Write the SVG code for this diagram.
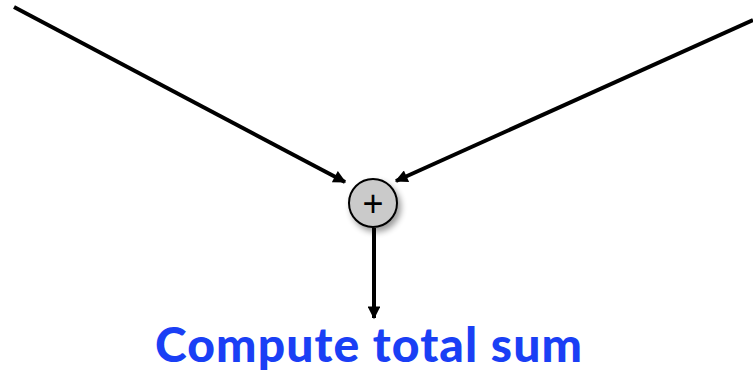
<svg xmlns="http://www.w3.org/2000/svg" width="753" height="372" viewBox="0 0 753 372">
<style>
.edge{stroke:#000;stroke-width:4;fill:none}
.lbl{font-family:"Comic Sans MS","Lato","Liberation Sans",sans-serif;font-weight:900;fill:#1a3ff5}
</style>
<defs>
<marker id="ah" viewBox="0 0 10 10" refX="9" refY="5" markerWidth="3.6" markerHeight="3.2" orient="auto" markerUnits="strokeWidth">
<path d="M0,0 L10,5 L0,10 z" fill="#000"/>
</marker>
<filter id="sh" x="-50%" y="-50%" width="200%" height="200%">
<feGaussianBlur in="SourceAlpha" stdDeviation="3"/>
<feOffset dx="3" dy="4"/>
<feComponentTransfer><feFuncA type="linear" slope="0.4"/></feComponentTransfer>
<feMerge><feMergeNode/><feMergeNode in="SourceGraphic"/></feMerge>
</filter>
</defs>
<g id="connectors">
<line class="edge" x1="14" y1="7" x2="345" y2="182" marker-end="url(#ah)"/>
<line class="edge" x1="753" y1="20" x2="396" y2="181" marker-end="url(#ah)"/>
<line class="edge" x1="374" y1="228" x2="374" y2="318" marker-end="url(#ah)"/>
</g>
<g id="sum">
<circle cx="373" cy="203" r="24" fill="#cacaca" stroke="#000" stroke-width="2" filter="url(#sh)"/>
<text x="373" y="216" text-anchor="middle" font-family="Liberation Sans,sans-serif" font-size="36" fill="#000">+</text>
</g>
<g id="label">
<text class="lbl" x="155" y="362" font-size="48" textLength="427" lengthAdjust="spacing">Compute total sum</text>
</g>
</svg>
